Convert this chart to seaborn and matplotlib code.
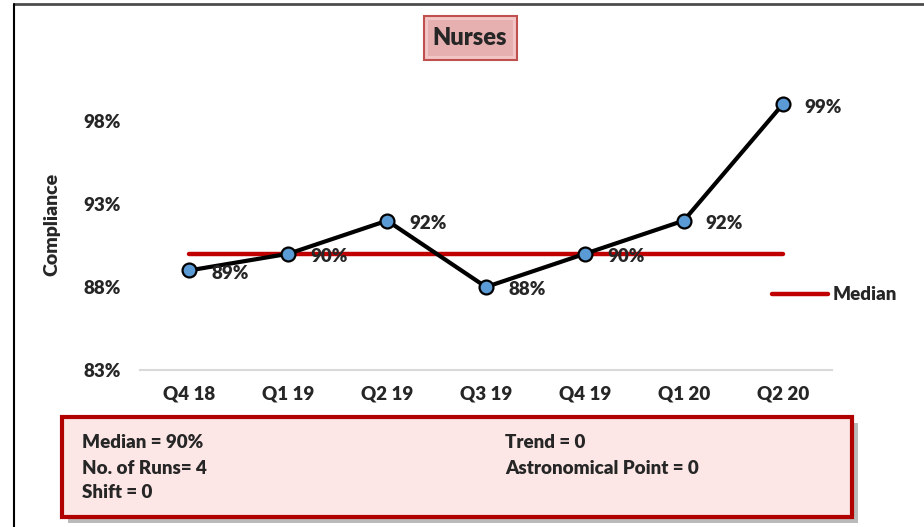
import pandas as pd
import seaborn as sns
import matplotlib.pyplot as plt
from matplotlib.patches import Rectangle
from matplotlib.lines import Line2D

# Chart data
quarters = ["Q4 18", "Q1 19", "Q2 19", "Q3 19", "Q4 19", "Q1 20", "Q2 20"]
compliance = [89, 90, 92, 88, 90, 92, 99]
median_value = 90
y_ticks = [83, 88, 93, 98]
summary_left = ["Median = 90%", "No. of Runs= 4", "Shift = 0"]
summary_right = ["Trend = 0", "Astronomical Point = 0"]

df = pd.DataFrame({"Quarter": quarters, "Compliance": compliance})
df["Median"] = median_value

sns.set_style("white")
plt.rcParams["font.family"] = ["Lato", "DejaVu Sans"]
W = 800  # text weight
plt.rcParams["font.weight"] = W

fig = plt.figure(figsize=(9.24, 5.27), dpi=100)
ax = fig.add_axes([0.1515, 0.298, 0.749, 0.551])

sns.lineplot(data=df, x="Quarter", y="Median", ax=ax, color="#C00000",
             linewidth=3.2, sort=False, zorder=2)
sns.lineplot(data=df, x="Quarter", y="Compliance", ax=ax, color="black",
             linewidth=3.0, marker="o", markersize=10, markerfacecolor="#5B9BD5",
             markeredgecolor="black", markeredgewidth=1.6, sort=False, zorder=3)

for i, v in enumerate(compliance):
    ax.annotate(f"{v}%", (i, v), xytext=(22, -3), textcoords="offset pixels",
                ha="left", va="center", fontsize=13.5, fontweight=W, zorder=4)

ax.set_xlim(-0.5, 6.5)
ax.set_ylim(83, 100.5)
ax.set_yticks(y_ticks)
ax.set_yticklabels([f"{t}%" for t in y_ticks])
ax.tick_params(axis="both", length=0, labelsize=13.5)
ax.tick_params(axis="y", pad=14)
ax.tick_params(axis="x", pad=11)
for lab in ax.get_xticklabels() + ax.get_yticklabels():
    lab.set_fontweight(W)
ax.set_xlabel("")
ax.set_ylabel("Compliance", fontsize=14, fontweight=W)
ax.yaxis.set_label_coords(-0.115, 0.5)
for side in ["top", "right", "left"]:
    ax.spines[side].set_visible(False)
ax.spines["bottom"].set_color("#D9D9D9")
ax.spines["bottom"].set_linewidth(1.5)

# Legend
handle = Line2D([0], [0], color="#C00000", linewidth=3.2)
fig.legend([handle], ["Median"], loc="center left",
           bbox_to_anchor=(755 / 924, 1 - 295 / 527), frameon=False,
           fontsize=13.5, handlelength=3.0, handletextpad=0.25)

# Outer frame
fig.add_artist(Line2D([14 / 924, 1], [1 - 4 / 527, 1 - 4 / 527], color="#4D4D4D",
                      linewidth=2, transform=fig.transFigure))
fig.add_artist(Line2D([14 / 924, 14 / 924], [0, 1 - 4 / 527], color="black",
                      linewidth=1.5, transform=fig.transFigure))

# Title box
fig.add_artist(Rectangle((424 / 924, 1 - 60 / 527), 93 / 924, 44 / 527,
                         transform=fig.transFigure, facecolor="#F2C6C6",
                         edgecolor="#C0504D", linewidth=1.5))
fig.add_artist(Rectangle((428 / 924, 1 - 56 / 527), 85 / 924, 36 / 527,
                         transform=fig.transFigure, facecolor="#E6B0B0",
                         edgecolor="none"))
fig.text(470 / 924, 1 - 38 / 527, "Nurses", ha="center", va="center",
         fontsize=17, fontweight=W)

# Summary box with shadow
fig.add_artist(Rectangle((68 / 924, 1 - 523 / 527), 790 / 924, 100 / 527,
                         transform=fig.transFigure, facecolor="#8C8C8C",
                         edgecolor="none", alpha=0.6))
fig.add_artist(Rectangle((62 / 924, 1 - 517 / 527), 790 / 924, 100 / 527,
                         transform=fig.transFigure, facecolor="#FDE6E6",
                         edgecolor="#B00000", linewidth=3))
for j, s in enumerate(summary_left):
    fig.text(82 / 924, 1 - (443 + 25 * j) / 527, s, ha="left", va="center",
             fontsize=13.5, fontweight=W)
for j, s in enumerate(summary_right):
    fig.text(505 / 924, 1 - (443 + 25 * j) / 527, s, ha="left", va="center",
             fontsize=13.5, fontweight=W)

fig.savefig("out.png", dpi=100, facecolor="white")
